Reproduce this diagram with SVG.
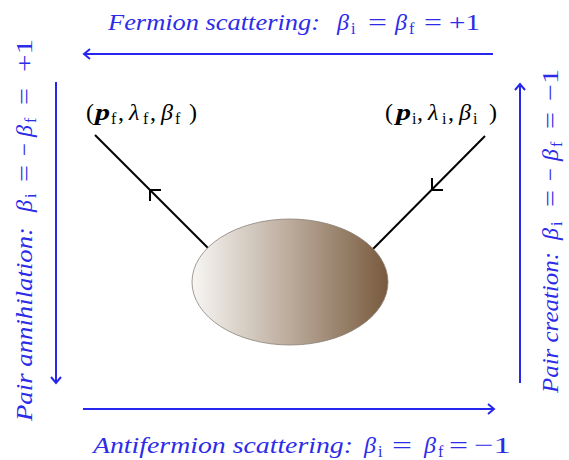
<svg xmlns="http://www.w3.org/2000/svg" width="569" height="460" viewBox="0 0 569 460">
<style>
.t{font-family:"Liberation Serif",serif;font-size:24px;fill:#2c2ce8}
.k{font-family:"Liberation Serif",serif;font-size:24px;fill:#000}
.it{font-style:italic}
.s{font-size:16px;font-style:normal}
.b{font-weight:bold;font-style:italic}
.arr{stroke:#2626ee;stroke-width:2;fill:none}
.ln{stroke:#000;stroke-width:2;fill:none}
</style>
<defs>
<marker id="ah" markerUnits="userSpaceOnUse" markerWidth="14" markerHeight="14" viewBox="-8 -7 10 14" refX="0" refY="0" orient="auto">
<path d="M -6 -5 L 0 0 L -6 5" stroke="#2626ee" stroke-width="2" fill="none"/>
</marker>
<linearGradient id="g" x1="0" y1="0" x2="1" y2="0">
<stop offset="0" stop-color="#f7f6f4"/>
<stop offset="0.5" stop-color="#bbab9b"/>
<stop offset="1" stop-color="#785a3e"/>
</linearGradient>
</defs>
<g id="connectors">
<line class="arr" x1="493" y1="54" x2="84" y2="54" marker-end="url(#ah)"/>
<line class="arr" x1="83" y1="409" x2="494" y2="409" marker-end="url(#ah)"/>
<line class="arr" x1="56" y1="82" x2="56" y2="383" marker-end="url(#ah)"/>
<line class="arr" x1="520" y1="383" x2="520" y2="84" marker-end="url(#ah)"/>
<line class="ln" x1="95" y1="135" x2="210" y2="250"/>
<path class="ln" d="M161 190 L150 190 L150 201"/>
<line class="ln" x1="485" y1="136" x2="372" y2="250"/>
<path class="ln" d="M432 178 L432 190 L443 190"/>
</g>
<g id="blob">
<ellipse cx="290" cy="282" rx="98" ry="63" fill="url(#g)" stroke="#8a8178" stroke-width="0.8"/>
</g>
<g id="label-top">
<text class="t" y="30"><tspan class="it" x="108" textLength="212" lengthAdjust="spacingAndGlyphs">Fermion scattering:</tspan><tspan class="it" x="337">β</tspan><tspan class="s" x="351" y="34">i</tspan><tspan x="368" y="30" textLength="19" lengthAdjust="spacingAndGlyphs">=</tspan><tspan class="it" x="395">β</tspan><tspan class="s" x="409" y="34">f</tspan><tspan x="424" y="30" textLength="18" lengthAdjust="spacingAndGlyphs">=</tspan><tspan x="449" textLength="31" lengthAdjust="spacingAndGlyphs">+1</tspan></text>
</g>
<g id="label-bottom">
<text class="t" y="453"><tspan class="it" x="93" textLength="260" lengthAdjust="spacingAndGlyphs">Antifermion scattering:</tspan><tspan class="it" x="364">β</tspan><tspan class="s" x="378" y="457">i</tspan><tspan x="392" y="453" textLength="20" lengthAdjust="spacingAndGlyphs">=</tspan><tspan class="it" x="424">β</tspan><tspan class="s" x="438" y="457">f</tspan><tspan x="449" y="453" textLength="19" lengthAdjust="spacingAndGlyphs">=</tspan><tspan x="474" textLength="37" lengthAdjust="spacingAndGlyphs">−1</tspan></text>
</g>
<g id="label-left" transform="translate(32,421) rotate(-90)">
<text class="t" y="0"><tspan class="it" x="0" textLength="194" lengthAdjust="spacingAndGlyphs">Pair annihilation:</tspan><tspan class="it" x="209">β</tspan><tspan class="s" x="223" y="4">i</tspan><tspan x="239" y="0" textLength="17" lengthAdjust="spacingAndGlyphs">=</tspan><tspan x="265" textLength="13" lengthAdjust="spacingAndGlyphs">−</tspan><tspan class="it" x="284">β</tspan><tspan class="s" x="298" y="4">f</tspan><tspan x="316" y="0" textLength="17" lengthAdjust="spacingAndGlyphs">=</tspan><tspan x="349" textLength="33" lengthAdjust="spacingAndGlyphs">+1</tspan></text>
</g>
<g id="label-right" transform="translate(558,393) rotate(-90)">
<text class="t" y="0"><tspan class="it" x="0" textLength="141" lengthAdjust="spacingAndGlyphs">Pair creation:</tspan><tspan class="it" x="153">β</tspan><tspan class="s" x="167" y="4">i</tspan><tspan x="186" y="0" textLength="17" lengthAdjust="spacingAndGlyphs">=</tspan><tspan x="212" textLength="13" lengthAdjust="spacingAndGlyphs">−</tspan><tspan class="it" x="232">β</tspan><tspan class="s" x="246" y="4">f</tspan><tspan x="264" y="0" textLength="17" lengthAdjust="spacingAndGlyphs">=</tspan><tspan x="292" textLength="32" lengthAdjust="spacingAndGlyphs">−1</tspan></text>
</g>
<g id="state-final">
<text class="k" y="120"><tspan x="86">(</tspan><tspan class="b" x="95" textLength="15" lengthAdjust="spacingAndGlyphs">p</tspan><tspan class="s" x="111" y="124">f</tspan><tspan x="118" y="120">,</tspan><tspan class="it" x="129">λ</tspan><tspan class="s" x="143" y="124">f</tspan><tspan x="150" y="120">,</tspan><tspan class="it" x="161">β</tspan><tspan class="s" x="175" y="124">f</tspan><tspan x="189" y="120">)</tspan></text>
</g>
<g id="state-initial">
<text class="k" y="120"><tspan x="385">(</tspan><tspan class="b" x="396" textLength="15" lengthAdjust="spacingAndGlyphs">p</tspan><tspan class="s" x="412" y="124">i</tspan><tspan x="417" y="120">,</tspan><tspan class="it" x="428">λ</tspan><tspan class="s" x="442" y="124">i</tspan><tspan x="448" y="120">,</tspan><tspan class="it" x="459">β</tspan><tspan class="s" x="473" y="124">i</tspan><tspan x="489" y="120">)</tspan></text>
</g>
</svg>
